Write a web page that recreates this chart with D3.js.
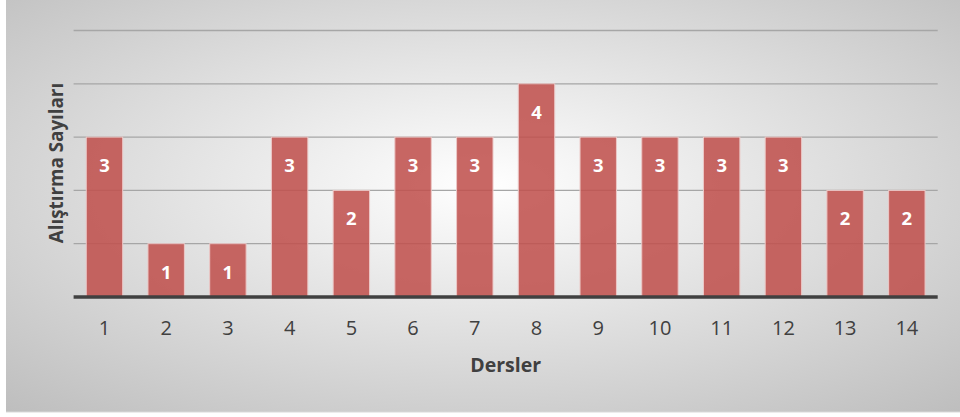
<!DOCTYPE html>
<html><head><meta charset="utf-8">
<script src="https://cdn.jsdelivr.net/npm/d3@7"></script>
<style>html,body{margin:0;padding:0;background:#fff;overflow:hidden}</style>
</head><body>
<svg id="c" width="960" height="417"></svg>
<script>
const categories = ["1","2","3","4","5","6","7","8","9","10","11","12","13","14"];
const values = [3,1,1,3,2,3,3,4,3,3,3,3,2,2];
const yTicks = [0,1,2,3,4,5];
const xTitle = "Dersler";
const yTitle = "Alıştırma Sayıları";

(function(){
const svg = d3.select("#c");
const defs = svg.append("defs");
const g = defs.append("radialGradient").attr("id","bg")
  .attr("cx","50%").attr("cy","45%").attr("r","75%");
g.append("stop").attr("offset","0%").attr("stop-color","#ffffff");
g.append("stop").attr("offset","100%").attr("stop-color","#bdbdbd");

svg.append("rect").attr("x",6).attr("y",0).attr("width",954).attr("height",412)
  .attr("fill","url(#bg)");
svg.append("line").attr("x1",6).attr("x2",960).attr("y1",412).attr("y2",412)
  .attr("stroke","#d9d9d9").attr("stroke-width",1);

const pLeft = 73.6, pRight = 937.7, pTop = 30.5, pBottom = 297;
const x = d3.scaleBand().domain(categories).range([pLeft,pRight]).paddingInner(0.41).paddingOuter(0.205);
const y = d3.scaleLinear().domain([0,5]).range([pBottom,pTop]);

const font = "Open Sans, Calibri, sans-serif";

svg.append("g").selectAll("line").data(yTicks.filter(d=>d>0)).join("line")
  .attr("x1",pLeft).attr("x2",pRight)
  .attr("y1",d=>y(d)).attr("y2",d=>y(d))
  .attr("stroke","#a6a6a6").attr("stroke-width",1.3);

svg.append("g").selectAll("rect").data(values).join("rect")
  .attr("x",(d,i)=>x(categories[i]))
  .attr("width",x.bandwidth())
  .attr("y",d=>y(d))
  .attr("height",d=>pBottom-y(d))
  .attr("fill","#c0504d").attr("fill-opacity",0.87)
  .attr("stroke","#ecc8c7").attr("stroke-width",1);

svg.append("g").selectAll("text").data(values).join("text")
  .attr("x",(d,i)=>x(categories[i])+x.bandwidth()/2)
  .attr("y",d=>y(d)+35)
  .attr("text-anchor","middle")
  .attr("font-family",font).attr("font-weight","bold").attr("font-size",18.5)
  .attr("fill","#ffffff").text(d=>d);

const xAxis = d3.axisBottom(x).tickSize(0).tickPadding(24);
const ax = svg.append("g").attr("transform",`translate(0,${pBottom})`).call(xAxis);
ax.select(".domain").remove();
ax.selectAll("text").attr("font-family",font).attr("font-size",20).attr("fill","#404040");

svg.append("line").attr("x1",pLeft).attr("x2",pRight).attr("y1",pBottom).attr("y2",pBottom)
  .attr("stroke","#404040").attr("stroke-width",3.5);

svg.append("text").attr("x",(pLeft+pRight)/2).attr("y",372)
  .attr("text-anchor","middle").attr("font-family",font).attr("font-weight","bold")
  .attr("font-size",19.5).attr("fill","#404040").text(xTitle);

svg.append("text").attr("transform","translate(63,163) rotate(-90)")
  .attr("text-anchor","middle").attr("font-family",font).attr("font-weight","bold")
  .attr("font-size",18.8).attr("fill","#404040").text(yTitle);
})();
</script>
</body></html>
